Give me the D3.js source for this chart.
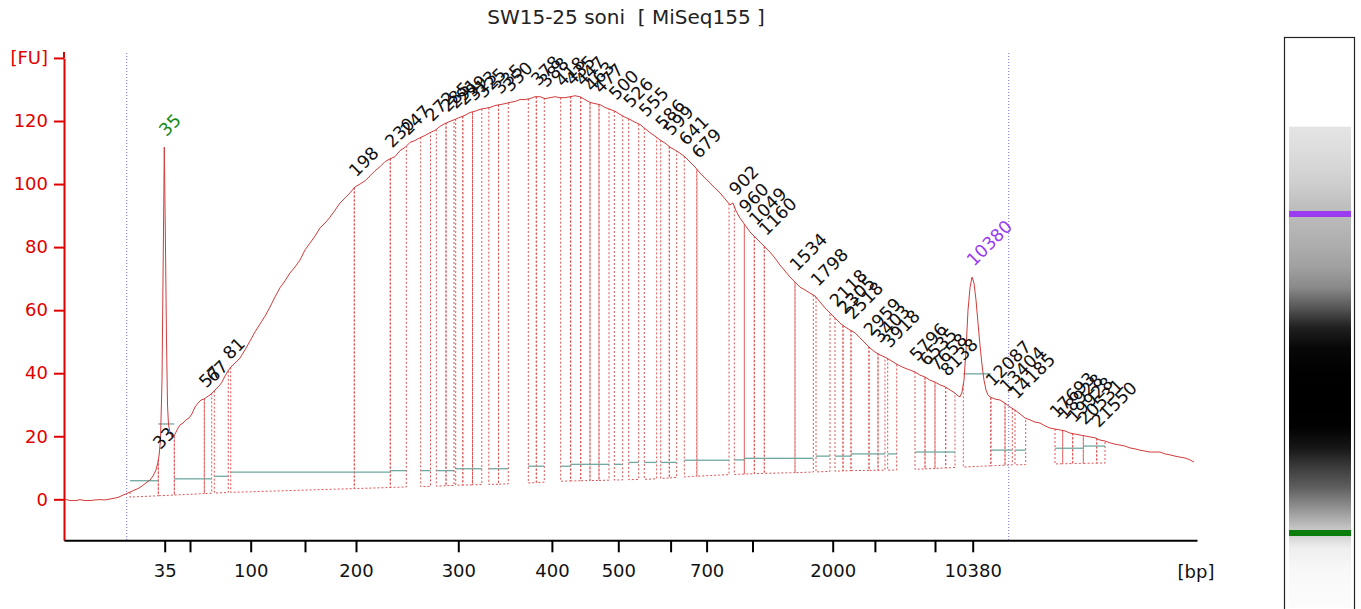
<!DOCTYPE html>
<html><head><meta charset="utf-8">
<script src="https://cdn.jsdelivr.net/npm/d3@7"></script>
<style>body{margin:0;background:#fff}svg{display:block}text{font-family:"DejaVu Sans",Verdana,sans-serif}</style>
</head><body><svg id="c" width="1361" height="609"></svg>
<script>
// ---- trace (migration time [s] vs fluorescence [FU]) ----
const traceTime = [30.0,30.6,31.2,31.6,32.1,32.6,33.1,33.6,34.1,34.6,35.1,35.4,35.8,36.2,36.6,37.0,37.4,37.8,38.2,38.6,38.9,39.2,39.4,39.5,39.65,39.8,39.93,40.03,40.13,40.25,40.35,40.45,40.6,40.8,41.0,41.2,41.4,41.6,41.9,42.2,42.5,42.8,43.1,43.4,43.7,44.0,44.3,44.6,44.9,45.2,45.5,45.8,46.1,46.4,46.7,47.1,47.6,48.1,48.6,49.1,49.6,50.1,50.6,51.1,51.6,52.1,52.6,53.1,53.6,54.1,54.6,55.1,55.6,56.1,56.6,57.1,57.6,58.1,58.6,59.1,59.6,60.1,60.6,61.1,61.6,62.1,62.6,63.1,63.6,64.1,64.6,65.1,65.6,66.1,66.6,67.1,67.6,68.1,68.6,69.1,69.6,70.1,70.6,71.1,71.6,72.1,72.6,73.1,73.6,74.1,74.6,75.1,75.6,76.1,76.6,77.1,77.6,78.1,78.6,79.1,79.6,80.1,80.6,81.1,81.6,82.1,82.6,83.1,83.6,84.1,84.6,85.1,85.6,86.1,86.6,87.1,87.6,88.1,88.6,89.1,89.6,90.1,90.6,91.1,91.6,92.1,92.6,93.1,93.6,94.1,94.6,95.1,95.6,96.1,96.6,96.9,97.2,97.6,98.1,98.6,99.1,99.6,100.1,100.6,101.1,101.6,102.1,102.6,103.1,103.6,104.1,104.6,105.1,105.6,106.1,106.6,107.1,107.6,108.1,108.6,109.1,109.6,110.1,110.6,111.1,111.6,112.1,112.6,113.1,113.6,114.1,114.6,115.1,115.6,116.1,116.6,117.1,117.6,118.1,118.6,119.1,119.4,119.6,119.8,120.0,120.2,120.4,120.6,120.8,121.0,121.2,121.4,121.6,121.8,122.0,122.2,122.4,122.6,123.1,123.6,124.1,124.6,125.1,125.6,126.1,126.6,127.1,127.6,128.1,128.6,129.1,129.6,130.1,130.6,131.1,131.6,132.1,132.6,133.1,133.6,134.1,134.6,135.1,135.6,136.1,136.6,137.1,137.6,138.1,138.6,139.1,139.6,140.1,140.6,141.1,141.6,142.1,142.6,143.0];
const traceFU = [0.1,-0.4,-0.4,-0.1,-0.4,-0.4,-0.2,-0.1,-0.2,0.1,0.4,0.6,1.2,1.7,2.3,2.9,3.4,4.2,5.2,6.1,7.4,9.3,11.8,13.7,18.8,37.8,79.1,111.7,85.4,50.5,29.9,23.6,21.3,19.8,20.1,21.3,22.6,23.6,24.2,25.2,25.8,27.1,29.3,30.5,31.5,31.8,32.5,33.1,34.0,35.0,35.9,37.2,39.1,40.7,42.0,43.2,44.8,47.4,50.2,53.1,55.6,58.1,61.0,64.2,67.1,69.3,71.8,73.7,75.9,79.1,81.3,83.5,86.1,87.6,89.5,91.7,94.0,95.6,97.2,99.1,100.0,101.0,102.6,104.2,105.5,107.1,108.0,108.7,110.6,111.6,113.2,113.8,114.7,115.4,116.3,117.0,118.3,119.2,119.9,120.5,121.2,121.8,122.7,123.1,123.7,124.0,124.3,124.9,125.2,125.5,125.9,126.2,126.8,126.8,127.1,127.7,127.7,127.1,127.4,127.7,127.4,127.4,127.7,128.0,127.7,126.8,125.9,125.5,125.2,124.3,123.7,123.1,122.1,121.2,120.5,119.6,118.9,117.6,116.3,115.2,114.0,113.0,111.7,110.8,109.8,108.6,107.0,105.4,103.5,101.9,100.3,98.7,97.2,95.3,93.4,94.0,91.5,89.2,87.0,84.8,83.2,81.6,80.0,78.4,76.5,74.3,72.4,70.5,68.9,67.3,66.4,65.4,64.5,62.6,60.7,59.1,57.5,55.9,54.7,53.7,52.8,51.2,49.6,48.0,46.7,45.8,45.1,44.2,43.2,42.3,41.6,41.0,40.4,39.4,38.8,37.8,37.2,36.3,35.7,34.7,33.7,32.8,32.5,34.0,37.8,47.4,60.0,67.1,70.5,68.6,63.2,55.9,48.9,42.6,37.8,34.7,33.1,32.5,31.8,31.5,30.5,29.3,28.3,27.1,25.8,25.2,24.5,24.2,23.3,22.6,22.3,22.0,21.7,21.0,20.7,20.4,20.1,19.8,19.5,18.8,18.5,17.9,17.5,17.2,16.9,16.3,16.0,15.6,15.3,15.0,15.0,15.0,14.4,14.1,13.7,13.4,13.1,12.5,11.8];

// ---- ladder (x axis) ----
const ladderBp = [35,50,100,150,200,300,400,500,600,700,1000,2000,3000,7000,10380];
const ladderTime = [40.07,42.6,48.67,54.1,59.2,69.43,78.79,85.43,90.66,94.26,98.85,106.87,111.09,117.1,120.87];
const ladderLabels = ["35","","100","","200","300","400","500","","700","","2000","","","10380"];
const yTicks = [0,20,40,60,80,100,120,140];
const yTickLabels = ["0","20","40","60","80","100","120","[FU]"];
const analysisRange = [36.27,124.47];

// ---- peak table ----
const peakLabel = ["33","35","57","67","81","198","230","247","272","285","291","299","313","325","335","350","378","388","418","435","447","463","477","500","526","555","586","599","641","679","902","960","1049","1160","1534","1798","2118","2305","2518","2959","3403","3918","5796","6535","7658","8138","10380","12087","13404","14185","17693","18928","19928","20531","21550"];
const peakStart = [36.6,39.43,41.03,44.03,45.03,46.67,59.03,62.63,65.67,67.23,68.2,69.17,69.88,70.85,72.48,73.45,76.43,77.23,79.67,80.67,81.67,82.6,83.5,85.03,86.47,88.03,89.67,90.53,92.03,93.3,97.03,98.03,99.03,100.03,103.1,105.2,107.1,107.9,108.7,110.5,111.4,112.37,115.1,116.1,117.1,118.17,119.93,122.7,124.1,125.1,129.1,129.87,130.87,131.93,133.27];
const peakEnd = [39.43,41.03,44.03,44.77,46.43,59.03,62.63,64.23,66.65,68.2,69.0,69.88,70.85,71.78,73.45,74.43,77.23,78.03,80.67,81.67,82.6,83.5,84.5,85.87,87.47,89.27,90.53,91.27,93.27,96.5,98.03,99.03,100.03,103.1,104.93,106.6,107.9,108.7,110.5,111.4,112.1,113.27,116.1,117.1,118.17,119.1,122.67,124.1,124.83,126.17,129.87,130.87,131.93,133.27,134.1];
const peakApex = [39.43,40.03,44.03,44.77,46.43,59.03,62.63,64.23,66.65,68.2,69.0,69.88,70.85,71.78,73.45,74.43,77.23,78.03,79.67,80.67,81.67,82.6,83.5,85.03,86.47,88.03,89.67,90.53,92.03,93.3,97.03,98.03,99.03,100.03,103.1,105.2,107.1,107.9,108.7,110.5,111.4,112.37,115.1,116.1,117.1,118.17,120.8,122.7,124.1,125.1,129.1,129.87,130.87,131.93,133.27];
const peakTeal = [5.9,23.9,6.5,6.5,7.3,8.6,8.6,9.1,9.1,9.1,9.1,9.7,9.7,9.7,9.7,9.7,10.5,10.5,10.5,11.1,11.1,11.1,11.1,11.1,11.7,11.7,11.7,11.7,12.4,12.4,12.5,13.0,13.0,13.0,13.0,13.7,13.7,13.7,14.4,14.4,14.4,14.4,15.0,15.0,15.0,15.0,39.8,15.6,15.6,15.6,16.2,16.2,16.2,16.9,16.9];
const baselineTime = [36.6,46.6,59.0,64.2,66.6,69.6,73.6,77.2,80.1,83.6,88.6,92.6,95.6,99.6,103.6,108.6,113.6,117.1,121.1,124.6,131.6,134.1];
const baselineFU = [0.7,2.2,3.4,3.9,4.1,4.5,4.8,5.3,5.8,6.0,6.4,7.2,7.7,8.2,8.5,9.1,9.3,9.8,10.4,10.9,11.4,11.5];

// ---- gel lane grey levels, top to bottom, evenly spaced ----
const gelGray = [228,222,214,204,190,182,172,160,138,88,32,8,2,0,0,2,22,60,95,145,195,238,247,250,252];

const svg = d3.select("#c");
const x = d3.scaleLinear().domain([30,143.3]).range([64,1197]);
const y = d3.scaleLinear().domain([-13,140]).range([540.3,57.95]);
const bis = d3.bisector(d=>d).left;
function fuAt(t){
  let i = bis(traceTime,t);
  if(i<=0) return traceFU[0];
  if(i>=traceTime.length) return traceFU[traceTime.length-1];
  const t0=traceTime[i-1],t1=traceTime[i];
  return traceFU[i-1]+(traceFU[i]-traceFU[i-1])*(t-t0)/(t1-t0);
}
const base = d3.scaleLinear().domain(baselineTime).range(baselineFU).clamp(true);

const RED="#e00000";
// title
svg.append("text").attr("x",626).attr("y",24).attr("text-anchor","middle")
  .attr("font-size",20).attr("fill","#222").style("white-space","pre")
  .text("SW15-25 soni  [ MiSeq155 ]");

// analysis range lines
svg.selectAll("line.ar").data(analysisRange).join("line").attr("class","ar")
  .attr("x1",d=>x(d)).attr("x2",d=>x(d)).attr("y1",53).attr("y2",540)
  .attr("stroke","#7676d0").attr("stroke-width",1).attr("stroke-dasharray","1,2");

// peak boxes
const peaks = peakLabel.map((l,i)=>({l,s:peakStart[i],e:peakEnd[i],a:peakApex[i],teal:peakTeal[i]}));
const boxG = svg.append("g");
peaks.forEach(p=>{
  const pts=[[x(p.s),y(fuAt(p.s))]];
  const n=Math.max(2,Math.ceil((p.e-p.s)*2));
  for(let k=0;k<=n;k++){const t=p.s+(p.e-p.s)*k/n;pts.push([x(t),y(base(t))]);}
  pts.push([x(p.e),y(fuAt(p.e))]);
  boxG.append("path").attr("d",d3.line()(pts)).attr("fill","none")
    .attr("stroke","#e05050").attr("stroke-width",1).attr("stroke-dasharray","2,2");
});
// teal lines
svg.append("g").selectAll("line").data(peaks).join("line")
  .attr("x1",d=>x(d.s)).attr("x2",d=>x(d.e)).attr("y1",d=>y(d.teal)).attr("y2",d=>y(d.teal))
  .attr("stroke","#6fa8a0").attr("stroke-width",1.3);

// trace
svg.append("path").datum(traceTime.map((t,i)=>[t,traceFU[i]]))
  .attr("d",d3.line().x(d=>x(d[0])).y(d=>y(d[1])))
  .attr("fill","none").attr("stroke","#d23c3c").attr("stroke-width",1);

// peak labels
const lowM = String(ladderBp[0]), upM = String(ladderBp[ladderBp.length-1]);
svg.append("g").selectAll("text").data(peaks).join("text")
  .attr("transform",d=>`translate(${x(d.a)+2},${y(fuAt(d.a))-10}) rotate(-45)`)
  .attr("font-size",17.5)
  .attr("fill",d=>d.l===lowM?"#178a17":(d.l===upM?"#9b3cf0":"#111"))
  .text(d=>d.l);

// y axis
const ya = svg.append("g").attr("transform","translate(64,0)")
  .call(d3.axisLeft(y).tickValues(yTicks).tickFormat((d,i)=>yTickLabels[i]).tickSize(10).tickSizeOuter(0).tickPadding(6));
ya.select(".domain").attr("stroke",RED).attr("stroke-width",2);
ya.selectAll(".tick line").attr("stroke",RED).attr("stroke-width",2);
ya.selectAll(".tick text").attr("fill",RED).attr("font-size",18).attr("font-family","DejaVu Sans");
svg.append("line").attr("x1",64).attr("x2",64).attr("y1",52).attr("y2",y(140)).attr("stroke",RED).attr("stroke-width",2);

// x axis
const xa = svg.append("g").attr("transform",`translate(0,${y(-13)})`)
  .call(d3.axisBottom(x).tickValues(ladderTime).tickFormat((d,i)=>ladderLabels[i]).tickSize(12).tickSizeOuter(0).tickPadding(12));
xa.select(".domain").attr("stroke","#000").attr("stroke-width",2);
xa.selectAll(".tick line").attr("stroke","#000").attr("stroke-width",2);
xa.selectAll(".tick text").attr("fill","#111").attr("font-size",18).attr("font-family","DejaVu Sans");
svg.append("text").attr("x",1196).attr("y",578).attr("text-anchor","middle").attr("font-size",18).attr("fill","#111").text("[bp]");

// gel
const gelY = d3.scaleLinear().domain([ladderTime[0],ladderTime[ladderTime.length-1]]).range([533,214]);
const laneTop = gelY(traceTime[traceTime.length-1]), laneBot = 608;
const defs = svg.append("defs");
const grad = defs.append("linearGradient").attr("id","gel").attr("x1",0).attr("x2",0).attr("y1",0).attr("y2",1);
gelGray.forEach((g,i)=>grad.append("stop").attr("offset",i/(gelGray.length-1)).attr("stop-color",d3.rgb(g,g,g)));
svg.append("rect").attr("x",1289).attr("y",laneTop).attr("width",62).attr("height",laneBot-laneTop).attr("fill","url(#gel)");
svg.append("rect").attr("x",1289).attr("y",gelY(ladderTime[ladderTime.length-1])-3).attr("width",62).attr("height",6).attr("fill","#9b3cf0");
svg.append("rect").attr("x",1289).attr("y",gelY(ladderTime[0])-3).attr("width",62).attr("height",6).attr("fill","#0a7d0a");
svg.append("rect").attr("x",1284.5).attr("y",37.5).attr("width",70).attr("height",580).attr("fill","none").attr("stroke","#222").attr("stroke-width",1.2);
</script></body></html>
